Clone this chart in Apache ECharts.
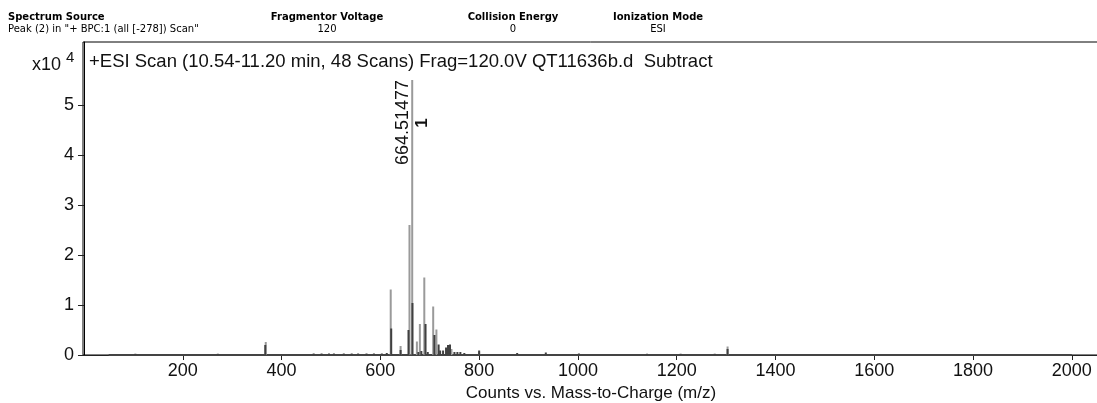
<!DOCTYPE html>
<html><head><meta charset="utf-8">
<script src="https://cdn.jsdelivr.net/npm/echarts@6/dist/echarts.min.js"></script>
<style>html,body{margin:0;padding:0;background:#fff}#c{width:1097px;height:403px}</style>
</head><body><div id="c"></div>
<script>
// ---- data ----
const xTickValues = [200, 400, 600, 800, 1000, 1200, 1400, 1600, 1800, 2000];
const yTickValues = [0, 10000, 20000, 30000, 40000, 50000];
const yScaleExponent = 4;
const headerTitles = ['Spectrum Source', 'Fragmentor Voltage', 'Collision Energy', 'Ionization Mode'];
const headerValues = ['Peak (2) in "+ BPC:1 (all [-278]) Scan"', '120', '0', 'ESI'];
const plotTitle = '+ESI Scan (10.54-11.20 min, 48 Scans) Frag=120.0V QT11636b.d  Subtract';
const xAxisTitle = 'Counts vs. Mass-to-Charge (m/z)';

// light (profile) trace peaks
const grayMz     = [368, 621, 641, 659, 664.51477, 674, 680, 689, 707, 713.5, 744, 800, 1303];
const grayCounts = [2600, 13100, 1800, 26000, 55000, 2700, 6200, 15500, 9700, 5100, 1200, 700, 1700];
// dark trace peaks
const darkMz     = [104, 271, 367, 465, 481, 496, 506, 526, 542, 555, 572, 587, 603, 613, 622, 641, 657, 665, 677, 683, 691.5, 696, 709.5, 718, 721, 727, 733, 737, 741, 750, 756, 762, 770, 800, 877, 935, 1002, 1140, 1208, 1277, 1303];
const darkCounts = [250, 250, 2000, 300, 300, 300, 300, 300, 300, 300, 300, 300, 300, 400, 5300, 1000, 5000, 10400, 600, 800, 6200, 600, 4000, 2100, 900, 900, 1500, 2000, 2100, 600, 600, 600, 400, 900, 400, 500, 300, 250, 250, 250, 1200];
const baselineMz = [50, 2000];
const baselineCounts = [0, 0];

const labelPeakMz = 664.51477;
const labelPeakCounts = 55000;
const labelPeakText = '664.51477';
const compoundText = '1';

// ---- chart ----
const FONT = "'Liberation Sans', Arial, sans-serif";
const HFONT = "'DejaVu Sans', Verdana, sans-serif";
const chart = echarts.init(document.getElementById('c'), null, {renderer: 'canvas'});
const zip = (a, b) => a.map((v, i) => [v, b[i]]);

const option = {
  animation: false,
  backgroundColor: '#fff',
  grid: {left: 83, top: 42, right: -2, bottom: 48, containLabel: false, outerBoundsMode: 'none',
    show: true, borderColor: '#000', borderWidth: 1, backgroundColor: 'transparent'},
  xAxis: {
    type: 'value', min: -2, max: 2055,
    name: xAxisTitle, nameLocation: 'middle', nameGap: 28,
    nameTextStyle: {fontFamily: FONT, fontSize: 17, color: '#111'},
    axisLine: {show: true, onZero: false, lineStyle: {color: '#222', width: 1}},
    axisTick: {show: true, length: 5, lineStyle: {color: '#222'}, customValues: xTickValues},
    axisLabel: {fontFamily: FONT, fontSize: 18, color: '#111', margin: 7, customValues: xTickValues,
      formatter: v => String(v)},
    splitLine: {show: false}
  },
  yAxis: {
    type: 'value', min: 0, max: 62600,
    axisLine: {show: true, lineStyle: {color: '#000', width: 1}},
    axisTick: {show: true, length: 6, lineStyle: {color: '#222'}, customValues: yTickValues},
    axisLabel: {fontFamily: FONT, fontSize: 18, color: '#111', margin: 9, customValues: yTickValues,
      formatter: v => String(Math.round(v / Math.pow(10, yScaleExponent)))},
    splitLine: {show: false}
  },
  series: [
    {type: 'line', data: zip(baselineMz, baselineCounts), symbol: 'none', lineStyle: {color: '#444', width: 2}, z: 1},
    {type: 'bar', data: zip(grayMz, grayCounts), barWidth: 2, barGap: '-100%', itemStyle: {color: '#9a9a9a'}, z: 2},
    {type: 'bar', data: zip(darkMz, darkCounts), barWidth: 2, barGap: '-100%', itemStyle: {color: '#404040'}, z: 3}
  ]
};
chart.setOption(option);

function addGraphics() {
  const p = chart.convertToPixel({gridIndex: 0}, [labelPeakMz, labelPeakCounts]);
  const hx = [8, 327, 513, 658];
  const elements = [];
  headerTitles.forEach((t, i) => {
    elements.push({type: 'text', x: hx[i], y: 17, style: {text: t, fontFamily: HFONT, fontSize: 10, fontWeight: 'bold', fill: '#000', textAlign: i === 0 ? 'left' : 'center', textVerticalAlign: 'middle'}});
    elements.push({type: 'text', x: hx[i], y: 29, style: {text: headerValues[i], fontFamily: HFONT, fontSize: 10, fill: '#000', textAlign: i === 0 ? 'left' : 'center', textVerticalAlign: 'middle'}});
  });
  elements.push({type: 'text', x: 89, y: 62, style: {text: plotTitle, fontFamily: FONT, fontSize: 18.5, fill: '#111', textAlign: 'left', textVerticalAlign: 'middle'}});
  elements.push({type: 'text', x: 61, y: 65, style: {text: 'x10', fontFamily: FONT, fontSize: 18, fill: '#111', textAlign: 'right', textVerticalAlign: 'middle'}});
  elements.push({type: 'text', x: 66, y: 58, style: {text: String(yScaleExponent), fontFamily: FONT, fontSize: 15, fill: '#111', textAlign: 'left', textVerticalAlign: 'middle'}});
  elements.push({type: 'text', x: p[0] - 9, y: p[1], rotation: Math.PI / 2, style: {text: labelPeakText, fontFamily: FONT, fontSize: 18, fill: '#111', textAlign: 'right', textVerticalAlign: 'middle'}});
  elements.push({type: 'text', x: p[0] + 10, y: p[1] + 43, rotation: Math.PI / 2, style: {text: compoundText, fontFamily: FONT, fontSize: 17, fontWeight: 'bold', fill: '#111', textAlign: 'center', textVerticalAlign: 'middle'}});
  chart.setOption({graphic: {elements: elements}});
}
addGraphics();
</script>
</body></html>
